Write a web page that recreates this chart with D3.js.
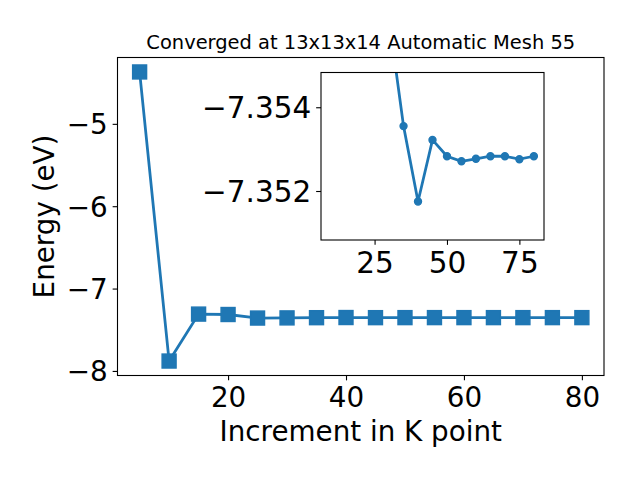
<!DOCTYPE html>
<html><head><meta charset="utf-8">
<script src="https://cdn.jsdelivr.net/npm/d3@7"></script>
<style>body{margin:0;background:#fff}svg{display:block}text{font-family:"DejaVu Sans",sans-serif;fill:#000}</style>
</head><body><svg id="c" width="640" height="480"></svg>
<script>
const title = "Converged at 13x13x14 Automatic Mesh 55";
const xLabel = "Increment in K point";
const yLabel = "Energy (eV)";
const kPoints = [5,10,15,20,25,30,35,40,45,50,55,60,65,70,75,80];
const energies = [-4.37,-7.88,-7.31,-7.315,-7.358,-7.3561,-7.35355,-7.35175,-7.35322,-7.35283,-7.35271,-7.35277,-7.35283,-7.35283,-7.35276,-7.35283];
const mainXTicks = [20,40,60,80];
const mainYTicks = [-5,-6,-7,-8];
const insetStart = 30;
const insetXDomain = [6.5, 83.5];
const insetYDomain = [-7.35483, -7.35083];
const insetXTicks = [25,50,75];
const insetYTicks = [-7.354,-7.352];

const color = "#1f77b4";
const fs = 27.78;
const fsi = 29.5;
const svg = d3.select("#c");
const minus = v => String(v).replace("-", "\u2212");

// main axes
const M = {l:117.5, r:604, t:57.5, b:375.5};
const xe = d3.extent(kPoints), ye = d3.extent(energies);
const xp = (xe[1]-xe[0])*0.05, yp = (ye[1]-ye[0])*0.05;
const x = d3.scaleLinear().domain([xe[0]-xp, xe[1]+xp]).range([M.l, M.r]);
const y = d3.scaleLinear().domain([ye[0]-yp, ye[1]+yp]).range([M.b, M.t]);
const data = kPoints.map((k,i)=>({k, e:energies[i]}));

const gx = svg.append("g").attr("transform",`translate(0,${M.b})`)
  .call(d3.axisBottom(x).tickValues(mainXTicks).tickSize(4.86).tickPadding(4.86).tickFormat(d=>minus(d)));
const gy = svg.append("g").attr("transform",`translate(${M.l},0)`)
  .call(d3.axisLeft(y).tickValues(mainYTicks).tickSize(4.86).tickPadding(4.86).tickFormat(d=>minus(d)));
[gx,gy].forEach(g=>{
  g.select(".domain").remove();
  g.selectAll(".tick line").attr("stroke","#000").attr("stroke-width",1.1);
  g.selectAll(".tick text").attr("font-size",fs).attr("font-family","DejaVu Sans").attr("fill","#000");
});
gx.selectAll(".tick text").attr("dy",null).attr("y",31);
gy.selectAll(".tick text").attr("dy","0.36em");

const line = d3.line().x(d=>x(d.k)).y(d=>y(d.e));
const gm = svg.append("g");
gm.append("path").datum(data).attr("d",line).attr("fill","none").attr("stroke",color).attr("stroke-width",2.78);
const ms = 14;
gm.selectAll("rect.m").data(data).join("rect").attr("class","m")
  .attr("x",d=>x(d.k)-ms/2).attr("y",d=>y(d.e)-ms/2).attr("width",ms).attr("height",ms)
  .attr("fill",color).attr("stroke",color).attr("stroke-width",1.39);
svg.append("rect").attr("x",M.l).attr("y",M.t).attr("width",M.r-M.l).attr("height",M.b-M.t)
  .attr("fill","none").attr("stroke","#000").attr("stroke-width",1.1);

svg.append("text").attr("x",(M.l+M.r)/2).attr("y",49).attr("text-anchor","middle").attr("font-size",19.44).text(title);
svg.append("text").attr("x",(M.l+M.r)/2).attr("y",441).attr("text-anchor","middle").attr("font-size",fs).text(xLabel);
svg.append("text").attr("transform",`translate(54,${(M.t+M.b)/2}) rotate(-90)`).attr("text-anchor","middle").attr("font-size",fs).text(yLabel);

// inset axes
const I = {l:321, r:544, t:72.5, b:240};
const xi = d3.scaleLinear().domain(insetXDomain).range([I.l, I.r]);
const yi = d3.scaleLinear().domain(insetYDomain).range([I.t, I.b]);
svg.append("rect").attr("x",I.l).attr("y",I.t).attr("width",I.r-I.l).attr("height",I.b-I.t).attr("fill","#fff");
svg.append("clipPath").attr("id","ic").append("rect")
  .attr("x",I.l).attr("y",I.t).attr("width",I.r-I.l).attr("height",I.b-I.t);
const idata = data.filter(d=>d.k>=insetStart);
const gi = svg.append("g").attr("clip-path","url(#ic)");
const li = d3.line().x(d=>xi(d.k)).y(d=>yi(d.e));
gi.append("path").datum(idata).attr("d",li).attr("fill","none").attr("stroke",color).attr("stroke-width",2.78);
gi.selectAll("circle").data(idata).join("circle").attr("cx",d=>xi(d.k)).attr("cy",d=>yi(d.e)).attr("r",3.5)
  .attr("fill",color).attr("stroke",color).attr("stroke-width",1.39);
const gix = svg.append("g").attr("transform",`translate(0,${I.b})`)
  .call(d3.axisBottom(xi).tickValues(insetXTicks).tickSize(4.86).tickPadding(4.86).tickFormat(d=>minus(d)));
const giy = svg.append("g").attr("transform",`translate(${I.l},0)`)
  .call(d3.axisLeft(yi).tickValues(insetYTicks).tickSize(4.86).tickPadding(4.86).tickFormat(d=>minus(d3.format(".3f")(d))));
[gix,giy].forEach(g=>{
  g.select(".domain").remove();
  g.selectAll(".tick line").attr("stroke","#000").attr("stroke-width",1.1);
  g.selectAll(".tick text").attr("font-size",fsi).attr("font-family","DejaVu Sans").attr("fill","#000");
});
gix.selectAll(".tick text").attr("dy",null).attr("y",32.5);
giy.selectAll(".tick text").attr("dy","0.36em");
svg.append("rect").attr("x",I.l).attr("y",I.t).attr("width",I.r-I.l).attr("height",I.b-I.t)
  .attr("fill","none").attr("stroke","#000").attr("stroke-width",1.1);
</script></body></html>
